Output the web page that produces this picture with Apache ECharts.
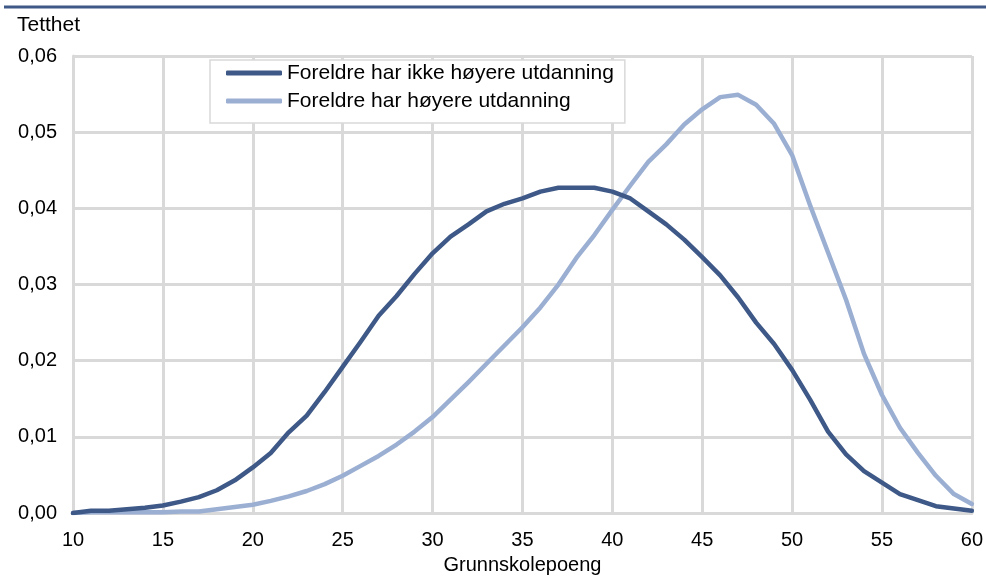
<!DOCTYPE html>
<html>
<head>
<meta charset="utf-8">
<script src="https://cdn.jsdelivr.net/npm/echarts@6/dist/echarts.min.js"></script>
<style>
html,body{margin:0;padding:0;background:#fff;}
#chart{width:986px;height:580px;}
</style>
</head>
<body>
<div id="chart"></div>
<script>
const xValues = [10,11,12,13,14,15,16,17,18,19,20,21,22,23,24,25,26,27,28,29,30,31,32,33,34,35,36,37,38,39,40,41,42,43,44,45,46,47,48,49,50,51,52,53,54,55,56,57,58,59,60];
const seriesNames = ['Foreldre har ikke høyere utdanning', 'Foreldre har høyere utdanning'];
const ikkeHoyere = [0.0000,0.0003,0.0003,0.0005,0.0007,0.0010,0.0015,0.0021,0.0030,0.0043,0.0060,0.0079,0.0106,0.0128,0.0159,0.0192,0.0225,0.0259,0.0285,0.0314,0.0341,0.0363,0.0379,0.0396,0.0406,0.0413,0.0422,0.0427,0.0427,0.0427,0.0422,0.0413,0.0396,0.0379,0.0359,0.0336,0.0312,0.0283,0.0250,0.0222,0.0188,0.0149,0.0107,0.0077,0.0055,0.0040,0.0025,0.0017,0.0009,0.0006,0.0003];
const hoyere = [0.0000,0.0001,0.0001,0.0001,0.0001,0.0001,0.0002,0.0002,0.0005,0.0008,0.0011,0.0016,0.0022,0.0029,0.0038,0.0049,0.0062,0.0075,0.0090,0.0107,0.0126,0.0149,0.0172,0.0196,0.0220,0.0244,0.0270,0.0300,0.0335,0.0365,0.0398,0.0430,0.0461,0.0484,0.0510,0.0530,0.0546,0.0549,0.0536,0.0511,0.0470,0.0404,0.0342,0.0280,0.0209,0.0155,0.0112,0.0079,0.0049,0.0025,0.0012];
const xTicks = {min:10, max:60, interval:5};
const yTicks = {min:0, max:0.06, interval:0.01};

const chart = echarts.init(document.getElementById('chart'), null, {renderer:'canvas'});
const font = 'Liberation Sans, Arial, sans-serif';
const gridColor = '#d9d9d9';
const pairs = arr => xValues.map((x,i)=>[x, arr[i]]);

chart.setOption({
  animation:false,
  backgroundColor:'#fff',
  textStyle:{fontFamily:font},
  title:{text:'Tetthet', left:17, top:15, padding:0, textStyle:{fontFamily:font, fontSize:21, fontWeight:'normal', color:'#000'}},
  graphic:[{type:'line', shape:{x1:4,y1:7,x2:986,y2:7}, style:{stroke:'#3e5987', lineWidth:3}}],
  grid:{left:73, right:13, top:56, bottom:62, containLabel:false},
  legend:{
    orient:'vertical', left:210, top:60,
    data:seriesNames,
    icon:'roundRect', itemWidth:56, itemHeight:5, itemGap:6, itemTextGap:5,
    padding:[2,11,11,16],
    borderColor:gridColor, borderWidth:1.5, backgroundColor:'#fff',
    textStyle:{fontFamily:font, fontSize:21, color:'#000', lineHeight:22}
  },
  xAxis:{
    type:'value', min:xTicks.min, max:xTicks.max, interval:xTicks.interval,
    name:'Grunnskolepoeng', nameLocation:'middle', nameGap:41,
    nameTextStyle:{fontFamily:font, fontSize:20, color:'#000'},
    axisLine:{show:true, lineStyle:{color:gridColor, width:3}},
    axisTick:{show:false},
    axisLabel:{fontFamily:font, fontSize:20, color:'#000', margin:17},
    splitLine:{show:true, lineStyle:{color:gridColor, width:3}}
  },
  yAxis:{
    type:'value', min:yTicks.min, max:yTicks.max, interval:yTicks.interval,
    axisLine:{show:true, lineStyle:{color:gridColor, width:3}},
    axisTick:{show:false},
    axisLabel:{fontFamily:font, fontSize:20, color:'#000', margin:16,
      formatter:v=>v.toFixed(2).replace('.', ',')},
    splitLine:{show:true, lineStyle:{color:gridColor, width:3}}
  },
  series:[
    {name:seriesNames[0], type:'line', data:pairs(ikkeHoyere), showSymbol:false, symbol:'none',
     lineStyle:{color:'#3e5987', width:4.5, cap:'round', join:'round'}, itemStyle:{color:'#3e5987'}, z:3},
    {name:seriesNames[1], type:'line', data:pairs(hoyere), showSymbol:false, symbol:'none',
     lineStyle:{color:'#9bafd3', width:4.5, cap:'round', join:'round'}, itemStyle:{color:'#9bafd3'}, z:2}
  ]
});
</script>
</body>
</html>
